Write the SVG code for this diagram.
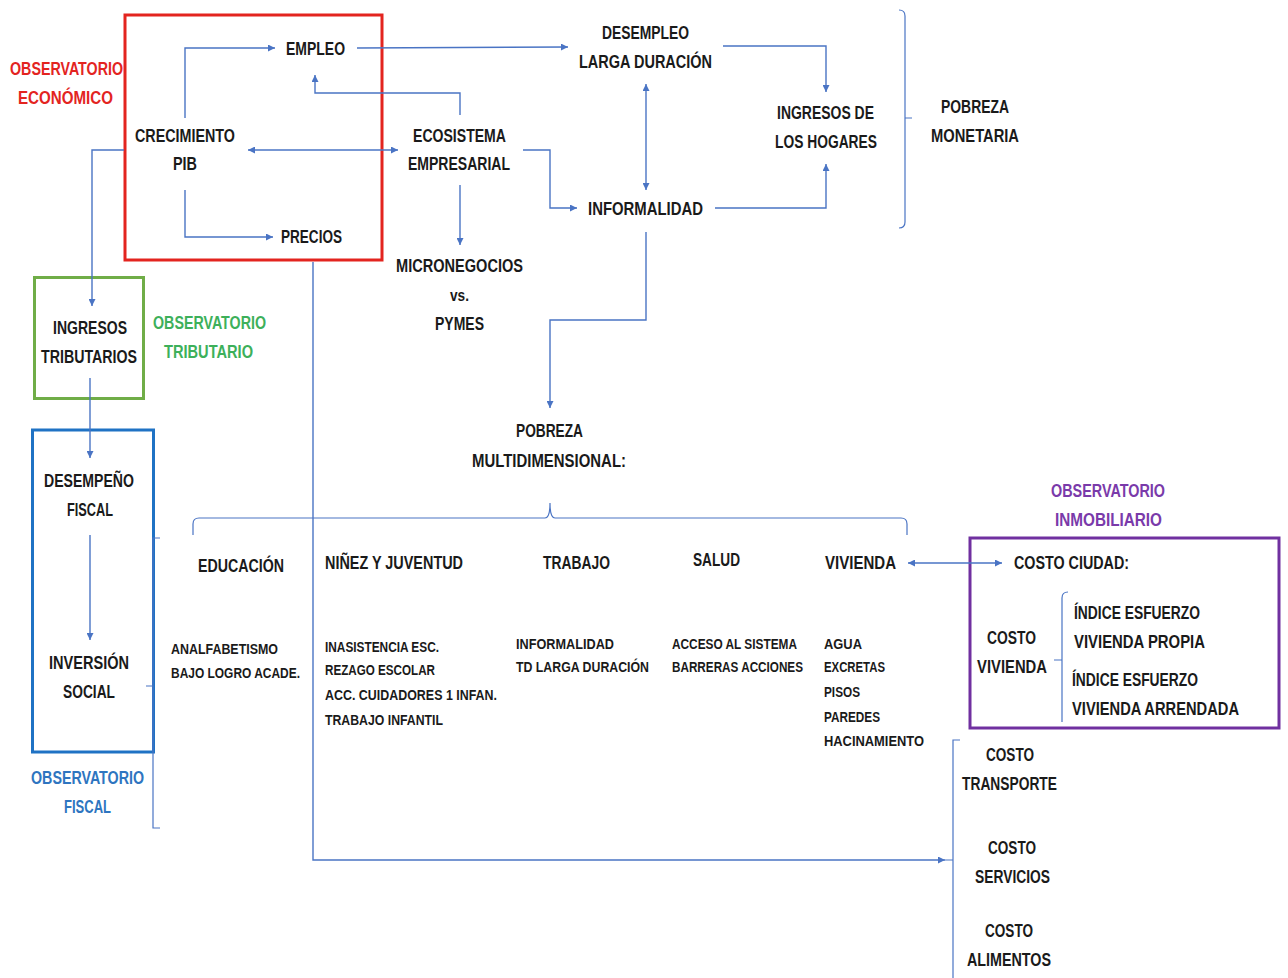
<svg xmlns="http://www.w3.org/2000/svg" width="1288" height="978" viewBox="0 0 1288 978">
<defs>
<style>
text{font-family:"Liberation Sans Narrow","Liberation Sans",Arial,sans-serif;font-weight:bold;fill:#1a1a1a;font-size:18px}
.s{font-size:14px}
.red{fill:#e3241f}.grn{fill:#3db05a}.blu{fill:#2e75c0}.pur{fill:#7a3aaa}
.c{fill:none;stroke:#4a74c4;stroke-width:1.4}
.b{fill:none;stroke:#4a74c4;stroke-width:1.2}
</style>
<marker id="a" viewBox="0 0 10 10" refX="10" refY="5" markerWidth="7" markerHeight="7" markerUnits="userSpaceOnUse" orient="auto-start-reverse">
<path d="M0,0L10,5L0,10z" fill="#4a74c4"/>
</marker>
</defs>
<rect width="1288" height="978" fill="#fff"/>

<g id="boxes">
<rect id="obs-economico-box" x="125" y="15" width="257" height="245" fill="none" stroke="#e3241f" stroke-width="3"/>
<rect id="obs-tributario-box" x="34.5" y="277.5" width="109" height="121" fill="none" stroke="#70ad47" stroke-width="3"/>
<rect id="obs-fiscal-box" x="32.5" y="430" width="121" height="322" fill="none" stroke="#1f72c4" stroke-width="3"/>
<rect id="obs-inmobiliario-box" x="970" y="538" width="309" height="190" fill="none" stroke="#7030a0" stroke-width="3"/>
</g>

<g id="connectors">
<path class="c" d="M185,118V48H275" marker-end="url(#a)"/>
<path class="c" d="M185,190V237H273" marker-end="url(#a)"/>
<path class="c" d="M248,150H398" marker-start="url(#a)" marker-end="url(#a)"/>
<path class="c" d="M460,115V93H315V75" marker-end="url(#a)"/>
<path class="c" d="M357,48L568,47" marker-end="url(#a)"/>
<path class="c" d="M723,46H826V92" marker-end="url(#a)"/>
<path class="c" d="M646,84V190" marker-start="url(#a)" marker-end="url(#a)"/>
<path class="c" d="M523,150H550V208H577" marker-end="url(#a)"/>
<path class="c" d="M715,208H826V164" marker-end="url(#a)"/>
<path class="c" d="M460,185V245" marker-end="url(#a)"/>
<path class="c" d="M646,232V320H550V408" marker-end="url(#a)"/>
<path class="c" d="M124,150H92V306" marker-end="url(#a)"/>
<path class="c" d="M90,378V458" marker-end="url(#a)"/>
<path class="c" d="M90,535V640" marker-end="url(#a)"/>
<path class="c" d="M313,262V860H945" marker-end="url(#a)"/>
<path class="c" d="M908,563H1002" marker-start="url(#a)" marker-end="url(#a)"/>
</g>

<g id="braces">
<path class="b" d="M899,10Q905,10 905,16V222Q905,228 899,228M905,118H912"/>
<path class="b" d="M193,535V524Q193,518 199,518H545Q550,518 550,503Q550,518 555,518H901Q907,518 907,524V535"/>
<path class="b" d="M160,538H153V828H160M146,686H153"/>
<path class="b" d="M960,740H953V978M945,860H953"/>
<path class="b" d="M1068,592Q1062,592 1062,598V722M1054,660H1062"/>
</g>

<g id="obs-economico">
<text class="red" x="10" y="75" textLength="113" lengthAdjust="spacingAndGlyphs">OBSERVATORIO</text>
<text class="red" x="18" y="104" textLength="95" lengthAdjust="spacingAndGlyphs">ECONÓMICO</text>
</g>
<g id="empleo"><text x="286" y="55" textLength="59" lengthAdjust="spacingAndGlyphs">EMPLEO</text></g>
<g id="crecimiento">
<text x="135" y="142" textLength="100" lengthAdjust="spacingAndGlyphs">CRECIMIENTO</text>
<text x="173" y="170" textLength="24" lengthAdjust="spacingAndGlyphs">PIB</text>
</g>
<g id="precios"><text x="281" y="243" textLength="61" lengthAdjust="spacingAndGlyphs">PRECIOS</text></g>
<g id="ecosistema">
<text x="413" y="142" textLength="93" lengthAdjust="spacingAndGlyphs">ECOSISTEMA</text>
<text x="408" y="170" textLength="102" lengthAdjust="spacingAndGlyphs">EMPRESARIAL</text>
</g>
<g id="desempleo">
<text x="602" y="39" textLength="87" lengthAdjust="spacingAndGlyphs">DESEMPLEO</text>
<text x="579" y="68" textLength="133" lengthAdjust="spacingAndGlyphs">LARGA DURACIÓN</text>
</g>
<g id="ingresos-hogares">
<text x="777" y="119" textLength="97" lengthAdjust="spacingAndGlyphs">INGRESOS DE</text>
<text x="775" y="148" textLength="102" lengthAdjust="spacingAndGlyphs">LOS HOGARES</text>
</g>
<g id="informalidad"><text x="588" y="215" textLength="115" lengthAdjust="spacingAndGlyphs">INFORMALIDAD</text></g>
<g id="pobreza-monetaria">
<text x="941" y="113" textLength="68" lengthAdjust="spacingAndGlyphs">POBREZA</text>
<text x="931" y="142" textLength="88" lengthAdjust="spacingAndGlyphs">MONETARIA</text>
</g>
<g id="micronegocios">
<text x="396" y="272" textLength="127" lengthAdjust="spacingAndGlyphs">MICRONEGOCIOS</text>
<text x="450" y="301" textLength="19" lengthAdjust="spacingAndGlyphs" style="font-size:16px">vs.</text>
<text x="435" y="330" textLength="49" lengthAdjust="spacingAndGlyphs">PYMES</text>
</g>
<g id="ingresos-tributarios">
<text x="53" y="334" textLength="74" lengthAdjust="spacingAndGlyphs">INGRESOS</text>
<text x="41" y="363" textLength="96" lengthAdjust="spacingAndGlyphs">TRIBUTARIOS</text>
</g>
<g id="obs-tributario">
<text class="grn" x="153" y="329" textLength="113" lengthAdjust="spacingAndGlyphs">OBSERVATORIO</text>
<text class="grn" x="164" y="358" textLength="89" lengthAdjust="spacingAndGlyphs">TRIBUTARIO</text>
</g>
<g id="desempeno-fiscal">
<text x="44" y="487" textLength="90" lengthAdjust="spacingAndGlyphs">DESEMPEÑO</text>
<text x="67" y="516" textLength="46" lengthAdjust="spacingAndGlyphs">FISCAL</text>
</g>
<g id="inversion-social">
<text x="49" y="669" textLength="80" lengthAdjust="spacingAndGlyphs">INVERSIÓN</text>
<text x="63" y="698" textLength="52" lengthAdjust="spacingAndGlyphs">SOCIAL</text>
</g>
<g id="obs-fiscal">
<text class="blu" x="31" y="784" textLength="113" lengthAdjust="spacingAndGlyphs">OBSERVATORIO</text>
<text class="blu" x="64" y="813" textLength="47" lengthAdjust="spacingAndGlyphs">FISCAL</text>
</g>
<g id="pobreza-multi">
<text x="516" y="437" textLength="67" lengthAdjust="spacingAndGlyphs">POBREZA</text>
<text x="472" y="467" textLength="154" lengthAdjust="spacingAndGlyphs">MULTIDIMENSIONAL:</text>
</g>
<g id="educacion">
<text x="198" y="572" textLength="86" lengthAdjust="spacingAndGlyphs">EDUCACIÓN</text>
<text class="s" x="171" y="654" textLength="107" lengthAdjust="spacingAndGlyphs">ANALFABETISMO</text>
<text class="s" x="171" y="678" textLength="129" lengthAdjust="spacingAndGlyphs">BAJO LOGRO ACADE.</text>
</g>
<g id="ninez">
<text x="325" y="569" textLength="138" lengthAdjust="spacingAndGlyphs">NIÑEZ Y JUVENTUD</text>
<text class="s" x="325" y="652" textLength="114" lengthAdjust="spacingAndGlyphs">INASISTENCIA ESC.</text>
<text class="s" x="325" y="675" textLength="110" lengthAdjust="spacingAndGlyphs">REZAGO ESCOLAR</text>
<text class="s" x="325" y="700" textLength="172" lengthAdjust="spacingAndGlyphs">ACC. CUIDADORES 1 INFAN.</text>
<text class="s" x="325" y="725" textLength="118" lengthAdjust="spacingAndGlyphs">TRABAJO INFANTIL</text>
</g>
<g id="trabajo">
<text x="543" y="569" textLength="67" lengthAdjust="spacingAndGlyphs">TRABAJO</text>
<text class="s" x="516" y="649" textLength="98" lengthAdjust="spacingAndGlyphs">INFORMALIDAD</text>
<text class="s" x="516" y="672" textLength="133" lengthAdjust="spacingAndGlyphs">TD LARGA DURACIÓN</text>
</g>
<g id="salud">
<text x="693" y="566" textLength="47" lengthAdjust="spacingAndGlyphs">SALUD</text>
<text class="s" x="672" y="649" textLength="125" lengthAdjust="spacingAndGlyphs">ACCESO AL SISTEMA</text>
<text class="s" x="672" y="672" textLength="131" lengthAdjust="spacingAndGlyphs">BARRERAS ACCIONES</text>
</g>
<g id="vivienda">
<text x="825" y="569" textLength="71" lengthAdjust="spacingAndGlyphs">VIVIENDA</text>
<text class="s" x="824" y="649" textLength="38" lengthAdjust="spacingAndGlyphs">AGUA</text>
<text class="s" x="824" y="672" textLength="61" lengthAdjust="spacingAndGlyphs">EXCRETAS</text>
<text class="s" x="824" y="697" textLength="36" lengthAdjust="spacingAndGlyphs">PISOS</text>
<text class="s" x="824" y="722" textLength="56" lengthAdjust="spacingAndGlyphs">PAREDES</text>
<text class="s" x="824" y="746" textLength="100" lengthAdjust="spacingAndGlyphs">HACINAMIENTO</text>
</g>
<g id="obs-inmobiliario">
<text class="pur" x="1051" y="497" textLength="114" lengthAdjust="spacingAndGlyphs">OBSERVATORIO</text>
<text class="pur" x="1055" y="526" textLength="107" lengthAdjust="spacingAndGlyphs">INMOBILIARIO</text>
</g>
<g id="costo-ciudad"><text x="1014" y="569" textLength="115" lengthAdjust="spacingAndGlyphs">COSTO CIUDAD:</text></g>
<g id="costo-vivienda">
<text x="987" y="644" textLength="49" lengthAdjust="spacingAndGlyphs">COSTO</text>
<text x="977" y="673" textLength="70" lengthAdjust="spacingAndGlyphs">VIVIENDA</text>
<text x="1074" y="619" textLength="126" lengthAdjust="spacingAndGlyphs">ÍNDICE ESFUERZO</text>
<text x="1074" y="648" textLength="131" lengthAdjust="spacingAndGlyphs">VIVIENDA PROPIA</text>
<text x="1072" y="686" textLength="126" lengthAdjust="spacingAndGlyphs">ÍNDICE ESFUERZO</text>
<text x="1072" y="715" textLength="167" lengthAdjust="spacingAndGlyphs">VIVIENDA ARRENDADA</text>
</g>
<g id="costo-transporte">
<text x="986" y="761" textLength="48" lengthAdjust="spacingAndGlyphs">COSTO</text>
<text x="962" y="790" textLength="95" lengthAdjust="spacingAndGlyphs">TRANSPORTE</text>
</g>
<g id="costo-servicios">
<text x="988" y="854" textLength="48" lengthAdjust="spacingAndGlyphs">COSTO</text>
<text x="975" y="883" textLength="75" lengthAdjust="spacingAndGlyphs">SERVICIOS</text>
</g>
<g id="costo-alimentos">
<text x="985" y="937" textLength="48" lengthAdjust="spacingAndGlyphs">COSTO</text>
<text x="967" y="966" textLength="84" lengthAdjust="spacingAndGlyphs">ALIMENTOS</text>
</g>
</svg>
